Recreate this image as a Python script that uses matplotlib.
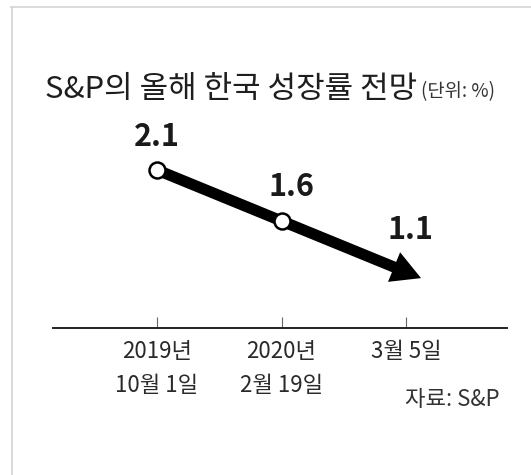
import matplotlib
matplotlib.use("Agg")
import matplotlib.pyplot as plt
from matplotlib.lines import Line2D
from matplotlib.patches import FancyArrowPatch

plt.rcParams['font.family'] = ['Noto Sans CJK KR', 'DejaVu Sans']

# ---- data ----
dates = ["2019년\n10월 1일", "2020년\n2월 19일", "3월 5일"]
growth = [2.1, 1.6, 1.1]
value_labels = ["2.1", "1.6", "1.1"]
title = "S&P의 올해 한국 성장률 전망"
unit = "(단위: %)"
source = "자료: S&P"

W, H = 531, 475
fig = plt.figure(figsize=(W / 100, H / 100), dpi=100)
fig.patch.set_facecolor("white")

# light gray frame (top and left edges)
fig.add_artist(Line2D([11 / W, 1.0], [1 - 7 / H, 1 - 7 / H], color="#d4d4d4", lw=1.2,
                      transform=fig.transFigure))
fig.add_artist(Line2D([12 / W, 12 / W], [0.0, 1 - 7 / H], color="#d4d4d4", lw=1.2,
                      transform=fig.transFigure))

ax = fig.add_axes([53 / W, 1 - 328 / H, (507 - 53) / W, (328 - 110) / H])
x = list(range(len(dates)))
ax.set_xlim(-0.835, 2.81)
ax.set_ylim(0.551, 2.688)

for s in ["top", "left", "right"]:
    ax.spines[s].set_visible(False)
ax.spines["bottom"].set_color("#222222")
ax.spines["bottom"].set_linewidth(1.4)
ax.set_yticks([])
ax.set_xticks(x)
ax.set_xticklabels(dates, fontsize=16, color="#2a2a2a", linespacing=1.6)
ax.tick_params(axis="x", direction="in", length=8, width=0.8, color="#666666", pad=9)

# arrow from first point past the last point, along the last segment
ext = 0.12
tip = (x[-1] + ext * (x[-1] - x[-2]), growth[-1] + ext * (growth[-1] - growth[-2]))
arrow = FancyArrowPatch((x[0], growth[0]), tip,
                        arrowstyle="simple,head_length=1.05,head_width=1.15,tail_width=0.4",
                        mutation_scale=20, color="black", lw=0, zorder=3,
                        shrinkA=0, shrinkB=0)
ax.add_patch(arrow)

# open circle markers on the first two points
ax.plot(x[:-1], growth[:-1], linestyle="none", marker="o", markersize=11.5,
        markerfacecolor="white", markeredgecolor="black", markeredgewidth=1.8, zorder=4)

offsets = [(0, 24), (7, 24.5), (3, 30)]
for xi, yi, lab, off in zip(x, growth, value_labels, offsets):
    ax.annotate(lab, (xi, yi), xytext=off, textcoords="offset points",
                ha="center", va="center", fontsize=22, fontweight="bold", color="#1a1a1a")

t = fig.text(45 / W, 1 - 90 / H, title, fontsize=22.3, color="#1e1e1e",
             ha="left", va="center")
fig.canvas.draw()
ax.annotate(unit, xy=(1, 0.12), xycoords=t, xytext=(3, 0), textcoords="offset points",
            ha="left", va="bottom", fontsize=13.5, color="#333333")

fig.text(500 / W, 1 - 399 / H, source, fontsize=16, color="#333333",
         ha="right", va="center")

fig.savefig("out.png", dpi=100, facecolor="white")
